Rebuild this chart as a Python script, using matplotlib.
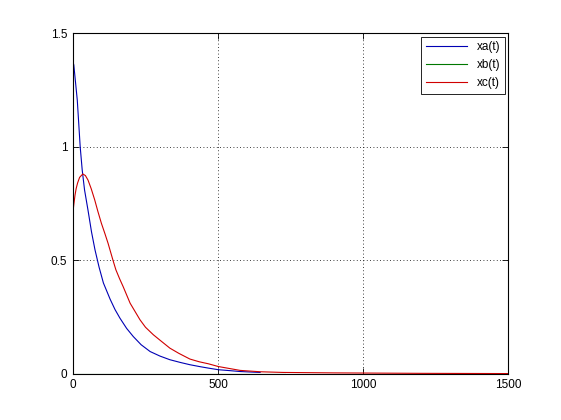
import matplotlib
matplotlib.use("Agg")
import matplotlib.pyplot as plt

# values
t_a = [0, 3, 15, 25, 32, 40, 52, 64, 76, 90, 105, 128, 145, 162, 185, 208, 235, 266, 300,
       334, 370, 403, 440, 467, 501, 540, 576, 610, 645]
xa = [1.375, 1.36, 1.205, 1.0, 0.897, 0.81, 0.72, 0.625, 0.546, 0.47, 0.40, 0.329, 0.283,
      0.245, 0.2, 0.164, 0.128, 0.098, 0.078, 0.062, 0.05, 0.04, 0.031, 0.025, 0.018, 0.014,
      0.01, 0.008, 0.006]

t_b = [0, 730]
xb = [0.0, 0.0]

t_c = [0, 3, 7, 11, 16, 23, 34, 43, 52, 63, 75, 86, 98, 110, 121, 138, 148, 161, 173, 197,
       231, 250, 277, 300, 334, 365, 403, 435, 467, 501, 576, 645, 724, 900, 1200, 1500]
xc = [0.71, 0.745, 0.785, 0.815, 0.84, 0.865, 0.88, 0.873, 0.853, 0.815, 0.766, 0.715, 0.663,
      0.618, 0.575, 0.50, 0.458, 0.418, 0.384, 0.311, 0.238, 0.205, 0.172, 0.148, 0.113,
      0.09, 0.065, 0.053, 0.044, 0.032, 0.015, 0.009, 0.006, 0.004, 0.002, 0.001]

x_ticks = [0, 500, 1000, 1500]
y_ticks = [0, 0.5, 1, 1.5]
y_labels = ["0", "0.5", "1", "1.5"]

plt.rcParams["font.family"] = ["Liberation Sans", "DejaVu Sans"]

fig = plt.figure(figsize=(5.61, 4.2), dpi=100)
ax = fig.add_axes([0.13, 0.11, 0.776, 0.811])

ax.plot(t_a, xa, color="#0000b4", lw=0.8, label="xa(t)")
ax.plot(t_b, xb, color="#007800", lw=0.8, label="xb(t)")
ax.plot(t_c, xc, color="#d00000", lw=0.8, label="xc(t)")

ax.set_xlim(0, 1500)
ax.set_ylim(0, 1.5)
ax.set_xticks(x_ticks)
ax.set_yticks(y_ticks)
ax.set_yticklabels(y_labels)
ax.tick_params(direction="in", top=True, right=True, labelsize=8.5, length=4, width=0.6, pad=4)
ax.grid(True, color="black", linestyle=(0, (1, 3)), linewidth=0.6)
for sp in ax.spines.values():
    sp.set_linewidth(0.8)

leg = ax.legend(loc="upper right", fontsize=8.5, fancybox=False, framealpha=1,
                edgecolor="black", borderaxespad=0.3, handlelength=3.5)
leg.get_frame().set_linewidth(0.6)

fig.savefig("out.png", dpi=100, facecolor="white")
